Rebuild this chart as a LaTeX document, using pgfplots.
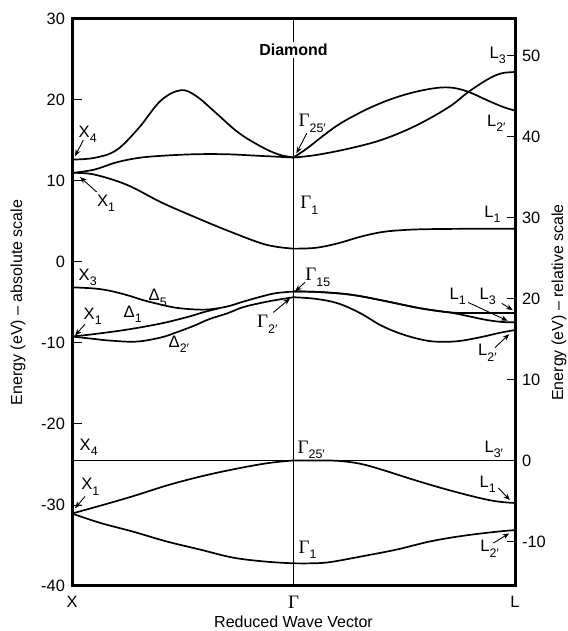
\documentclass[border=0pt]{standalone}
\usepackage{fontspec}
\setmainfont{Liberation Sans}
\newfontfamily\gfont{Liberation Serif}
\usepackage{pgfplots}
\pgfplotsset{compat=1.18}
\usetikzlibrary{arrows.meta}

\newcommand{\sub}[1]{\raisebox{-0.33em}{\fontsize{6.2}{6.5}\selectfont #1}}
\newcommand{\G}{{\gfont\fontsize{9.5}{10}\selectfont Γ}}

\begin{document}
\begin{tikzpicture}[
  lab/.style={font=\fontsize{8.3}{9}\selectfont, inner sep=0pt, anchor=base west},
  arr/.style={-{Stealth[length=3.4pt,width=2.6pt]}, line width=0.45pt},
]
\pgfplotsset{band/.style={black, solid, line width=0.85pt, mark=none, smooth, tension=0.6}}
\begin{axis}[
  width=221.5pt, height=283.5pt, scale only axis,
  xmin=0, xmax=2, ymin=-40, ymax=30,
  clip=false,
  axis line style={line width=1.2pt},
  xtick={0,1,2}, xticklabels={X,\G,L},
  xticklabel style={anchor=center, yshift=-8pt},
  x tick style={draw=none},
  ytick={-40,-30,...,30},
  ytick pos=left,
  y tick style={line width=0.5pt, black},
  major tick length=5pt,
  tick align=inside,
  /pgf/number format/assume math mode=true,
  tick label style={font=\fontsize{8.2}{9}\selectfont},
  xlabel={Reduced Wave Vector},
  xlabel style={at={(axis description cs:0.5,-0.063)}, anchor=center, font=\fontsize{8}{9}\selectfont},
  ylabel={Energy (eV) – absolute scale},
  ylabel style={at={(axis description cs:-0.122,0.5)}, anchor=center, font=\fontsize{8}{9}\selectfont},
]
\coordinate (SW) at (rel axis cs:0,0);
\coordinate (NE) at (rel axis cs:1,1);
% Gamma line
\addplot[black, line width=0.45pt, sharp plot, mark=none] coordinates {(1,-40) (1,30)};

% ---- conduction bands X-Gamma
\addplot[band] coordinates {(0,12.65) (0.1,12.85) (0.2,13.8) (0.3,16.5) (0.4,19.9) (0.49,21.2) (0.56,20.5) (0.65,18.4) (0.75,16.0) (0.85,14.3) (0.93,13.3) (1,12.9)};
\addplot[band] coordinates {(0,11.0) (0.1,11.4) (0.2,12.3) (0.3,12.85) (0.4,13.1) (0.55,13.3) (0.7,13.3) (0.85,13.1) (1,12.9)};
\addplot[band] coordinates {(0,11.0) (0.1,10.8) (0.25,9.5) (0.4,7.4) (0.55,5.6) (0.7,3.9) (0.85,2.35) (0.93,1.85) (1,1.65)};
% ---- conduction bands Gamma-L
\addplot[band] coordinates {(1,12.9) (1.1,13.2) (1.25,14.0) (1.4,15.1) (1.55,16.8) (1.7,19.1) (1.79,21.0) (1.88,22.6) (1.94,23.3) (2,23.45)};
\addplot[band] coordinates {(1,12.9) (1.06,14.0) (1.13,15.5) (1.2,16.9) (1.27,18.0) (1.35,19.1) (1.45,20.2) (1.55,21.0) (1.65,21.5) (1.72,21.5) (1.79,21.0) (1.88,19.9) (1.95,19.1) (2,18.7)};
\addplot[band] coordinates {(1,1.65) (1.1,1.75) (1.2,2.3) (1.3,3.1) (1.4,3.7) (1.5,3.95) (1.6,4.05) (1.8,4.1) (2,4.1)};

% ---- upper valence X-Gamma
\addplot[band] coordinates {(0,-3.13) (0.1,-3.27) (0.17,-3.55) (0.25,-4.1) (0.32,-4.7) (0.4,-5.25) (0.47,-5.65) (0.55,-5.85) (0.62,-5.85) (0.7,-5.5) (0.77,-4.92) (0.85,-4.3) (0.92,-3.85) (1,-3.65)};
\addplot[band] coordinates {(0,-9.2) (0.1,-8.9) (0.25,-8.34) (0.4,-7.6) (0.52,-6.8) (0.6,-6.15) (0.66,-5.75)};
\addplot[band] coordinates {(0,-9.2) (0.1,-9.5) (0.17,-9.7) (0.29,-9.83) (0.4,-9.33) (0.47,-8.7) (0.55,-7.88) (0.62,-7.05) (0.7,-6.35) (0.77,-5.6) (0.85,-5.07) (0.92,-4.7) (1,-4.35)};
% ---- upper valence Gamma-L
\addplot[band] coordinates {(1,-3.65) (1.11,-3.7) (1.26,-4.04) (1.41,-4.8) (1.55,-5.6) (1.64,-6.0) (1.72,-6.25) (1.8,-6.3) (2,-6.3)};
\addplot[band] coordinates {(1,-3.65) (1.11,-3.7) (1.26,-4.04) (1.41,-4.8) (1.55,-5.6) (1.64,-6.0) (1.72,-6.3) (1.8,-6.75) (1.87,-7.15) (1.94,-7.4) (2,-7.45)};
\addplot[band] coordinates {(1,-4.35) (1.1,-4.55) (1.2,-5.1) (1.3,-6.3) (1.4,-7.9) (1.5,-9.0) (1.6,-9.7) (1.67,-9.85) (1.75,-9.75) (1.85,-9.25) (1.93,-8.75) (2,-8.4)};

% ---- lower valence
\addplot[band, sharp plot] coordinates {(0,-24.5) (2,-24.5)};
\addplot[band] coordinates {(0,-31.05) (0.126,-30.1) (0.277,-28.9) (0.427,-27.6) (0.578,-26.5) (0.728,-25.6) (0.879,-24.85) (1,-24.5)};
\addplot[band] coordinates {(0,-31.05) (0.126,-32.2) (0.277,-33.3) (0.427,-34.5) (0.578,-35.5) (0.728,-36.5) (0.879,-37.0) (1,-37.2)};
\addplot[band] coordinates {(1,-24.5) (1.1,-24.5) (1.2,-24.55) (1.3,-24.9) (1.4,-25.65) (1.55,-26.95) (1.7,-28.15) (1.85,-29.2) (1.93,-29.6) (2,-29.75)};
\addplot[band] coordinates {(1,-37.2) (1.08,-37.2) (1.165,-37.05) (1.316,-36.3) (1.466,-35.5) (1.616,-34.5) (1.766,-33.8) (1.917,-33.3) (2,-33.1)};

% ---- title
\node[font=\bfseries\fontsize{8}{9}\selectfont, fill=white, inner sep=1pt] at (axis cs:1.0,26.2) {Diamond};

% ---- labels
\node[lab] at (axis cs:0.0285,15.38) {X\sub{4}};
\node[lab] at (axis cs:0.1115,6.86) {X\sub{1}};
\node[lab] at (axis cs:0.0285,-2.27) {X\sub{3}};
\node[lab] at (axis cs:0.3445,-4.78) {Δ\sub{5}};
\node[lab] at (axis cs:0.051,-7.05) {X\sub{1}};
\node[lab] at (axis cs:0.2316,-6.85) {Δ\sub{1}};
\node[lab] at (axis cs:0.4348,-10.5) {Δ\sub{2′}};
\node[lab] at (axis cs:0.834,-8.09) {\G\sub{2′}};
\node[lab] at (axis cs:1.052,-2.3) {\G\sub{15}};
\node[lab] at (axis cs:1.0217,16.7) {\G\sub{25′}};
\node[lab] at (axis cs:1.029,6.58) {\G\sub{1}};
\node[lab] at (axis cs:1.884,25.17) {L\sub{3}};
\node[lab] at (axis cs:1.872,16.78) {L\sub{2′}};
\node[lab] at (axis cs:1.86,5.54) {L\sub{1}};
\node[lab] at (axis cs:1.703,-4.57) {L\sub{1}};
\node[lab] at (axis cs:1.839,-4.57) {L\sub{3}};
\node[lab] at (axis cs:1.832,-11.6) {L\sub{2′}};
\node[lab] at (axis cs:0.033,-23.25) {X\sub{4}};
\node[lab] at (axis cs:0.0406,-28.1) {X\sub{1}};
\node[lab] at (axis cs:1.017,-23.6) {\G\sub{25′}};
\node[lab] at (axis cs:1.861,-23.5) {L\sub{3′}};
\node[lab] at (axis cs:1.839,-27.8) {L\sub{1}};
\node[lab] at (axis cs:1.0217,-35.97) {\G\sub{1}};
\node[lab] at (axis cs:1.842,-35.76) {L\sub{2′}};

% ---- arrows
\draw[arr] (axis cs:0.051,15.04) -- (axis cs:0.0135,13.06);
\draw[arr] (axis cs:0.1115,8.64) -- (axis cs:0.036,10.5);
\draw[arr] (axis cs:0.0587,-7.67) -- (axis cs:0.0135,-9.1);
\draw[arr] (axis cs:0.909,-6.23) -- (axis cs:0.984,-4.5);
\draw[arr] (axis cs:1.052,-2.51) -- (axis cs:1.007,-3.63);
\draw[arr] (axis cs:1.06,15.9) -- (axis cs:1.013,13.4);
\draw[arr] (axis cs:1.789,-5.0) -- (axis cs:1.967,-7.26);
\draw[arr] (axis cs:1.94,-5.1) -- (axis cs:1.99,-5.95);
\draw[arr] (axis cs:1.91,-10.57) -- (axis cs:1.974,-8.9);
\draw[arr] (axis cs:0.0587,-28.95) -- (axis cs:0.0135,-30.4);
\draw[arr] (axis cs:1.925,-27.9) -- (axis cs:1.977,-29.4);
\draw[arr] (axis cs:1.902,-34.7) -- (axis cs:1.974,-33.5);
\end{axis}

\begin{axis}[
  width=221.5pt, height=283.5pt, scale only axis,
  xmin=0, xmax=2, ymin=-15.5, ymax=54.5,
  axis x line=none, axis y line*=right,
  axis line style={line width=1.2pt, -},
  ytick={-10,0,...,50},
  y tick style={line width=0.5pt, black},
  major tick length=4pt,
  tick align=inside,
  /pgf/number format/assume math mode=true,
  tick label style={font=\fontsize{8.2}{9}\selectfont},
  ylabel={Energy (eV) – relative scale},
  ylabel style={at={(axis description cs:1.099,0.5)}, anchor=center, font=\fontsize{8}{9}\selectfont},
]
\end{axis}

\draw[line width=1.5pt] (SW) rectangle (NE);

\pgfresetboundingbox
\path[use as bounding box] ([shift={(-36pt,-22.5pt)}]SW) rectangle ([shift={(26pt,9.5pt)}]NE);
\end{tikzpicture}
\end{document}
